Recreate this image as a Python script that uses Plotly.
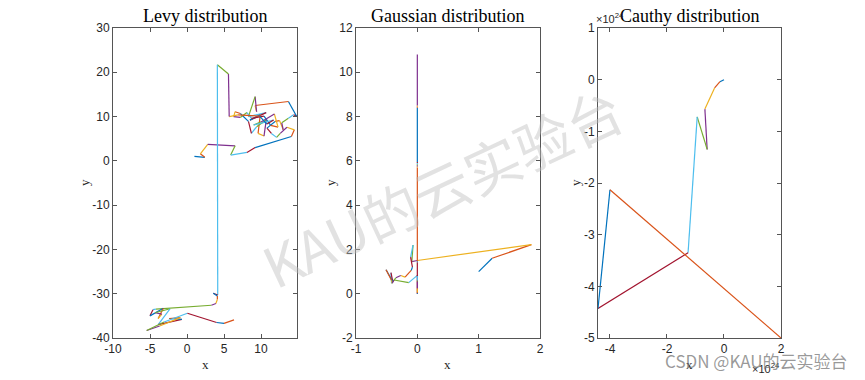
import plotly.graph_objects as go

# ---------------- data ----------------
levy_x = [1.0, 2.4, 1.8, 2.8, 6.5, 5.9, 8.1, 9.2, 14.1, 14.5, 13.5, 12.6, 12.1, 11.4, 10.8, 11.9,
          12.5, 13.0, 12.8, 13.7, 14.4, 14.8, 13.7, 9.2, 9.4, 9.2, 8.3, 10.7, 8.5, 9.9, 9.6, 10.4,
          10.7, 9.4, 8.7, 8.3, 7.2, 6.5, 6.3, 7.2, 8.1, 8.7, 10.4, 11.3, 12.3, 11.8, 10.0, 9.0,
          11.7, 10.8, 9.8, 6.9, 5.7, 5.6, 4.1, 4.15, 3.55, 4.1, 4.1, 3.9, 3.3, -4.2, -4.6, -5.0,
          -3.2, -3.9, -3.4, -4.3, -2.3, -3.9, -0.7, -2.4, -0.9, -3.7, -5.45, -3.1, 0.05, 4.0, 5.0, 6.35]
levy_y = [1.0, 0.8, 1.6, 3.7, 3.4, 1.3, 1.9, 3.0, 5.5, 7.0, 7.6, 6.2, 5.3, 6.2, 7.4, 8.9,
          9.1, 7.0, 8.6, 9.6, 10.4, 10.1, 13.4, 12.5, 11.1, 14.5, 10.0, 10.9, 9.2, 10.4, 6.2, 5.6,
          9.2, 7.7, 6.2, 8.9, 10.7, 11.1, 10.0, 9.8, 10.9, 9.6, 10.1, 8.0, 7.6, 10.6, 8.8, 8.1,
          9.2, 8.3, 10.1, 10.4, 10.0, 19.6, 21.7, -30.3, -29.9, -30.5, -31.3, -32.2, -32.6, -33.5, -33.6, -35.0,
          -33.3, -35.6, -34.6, -34.3, -33.4, -37.0, -35.8, -35.6, -35.4, -37.3, -38.3, -36.4, -34.4, -36.5, -36.7, -35.9]

gauss_x = [1.0, 1.22, 1.86, 0.0, -0.09, -0.07, -0.11, -0.08, -0.1, -0.2, -0.27, -0.35, -0.42, -0.43,
           -0.4, -0.51, -0.42, -0.41, -0.38, -0.14, 0.0, 0.0, 0.0, 0.0, 0.0, 0.0, 0.0, 0.0, 0.0,
           0.0, 0.0, 0.0, 0.0, 0.0, 0.0, 0.0, 0.0, 0.0, 0.0, 0.0]
gauss_y = [1.0, 1.6, 2.22, 1.5, 1.45, 2.2, 1.65, 1.2, 1.05, 0.75, 0.82, 0.72, 0.47, 0.95,
           0.55, 1.08, 0.6, 0.48, 0.62, 0.5, 0.83, 0.0, 0.03, 0.06, 0.25, 0.55, 0.6, 0.8, 1.42,
           1.47, 5.7, 5.75, 5.8, 5.85, 5.9, 5.95, 8.4, 8.45, 8.5, 10.8]

# Cauchy walk, values in units of 1e24
cauchy_x = [0.0, -0.14, -0.33, -0.67, -0.59, -0.94, -1.26, -4.42, -4.0, 2.0]
cauchy_y = [0.0, -0.04, -0.16, -0.57, -1.35, -0.72, -3.35, -4.43, -2.13, -5.0]

titles = ["Levy distribution", "Gaussian distribution", "Cauthy distribution"]
x_ranges = [[-10, 14.86], [-1, 2], [-4.42, 2]]
y_ranges = [[-40, 30], [-2, 12], [-5, 1]]
x_ticks = [[-10, -5, 0, 5, 10], [-1, 0, 1, 2], [-4, -2, 0, 2]]
y_ticks = [[-40, -30, -20, -10, 0, 10, 20, 30], [-2, 0, 2, 4, 6, 8, 10, 12], [-5, -4, -3, -2, -1, 0, 1]]
exponent_label = "×10<sup>24</sup>"

# ---------------- style ----------------
colors = ["#0072BD", "#D95319", "#EDB120", "#7E2F8E", "#77AC30", "#4DBEEE", "#A2142F"]
W, H = 865, 380
x_px = [(113, 297), (356, 540), (598, 781)]
y_px = (28, 338)
ylab_px = [84, 330, 575]

fig = go.Figure()
walks = [(levy_x, levy_y), (gauss_x, gauss_y), (cauchy_x, cauchy_y)]
for k, (xs, ys) in enumerate(walks):
    sfx = "" if k == 0 else str(k + 1)
    for i in range(len(xs) - 1):
        fig.add_trace(go.Scatter(
            x=[xs[i], xs[i + 1]], y=[ys[i], ys[i + 1]], mode="lines",
            line=dict(color=colors[i % 7], width=1.2),
            xaxis="x" + sfx, yaxis="y" + sfx, showlegend=False, hoverinfo="skip"))

axis_common = dict(showline=True, linecolor="#555555", linewidth=1, mirror="ticks",
                   ticks="inside", ticklen=4, tickcolor="#555555", showgrid=False,
                   zeroline=False, automargin=False,
                   tickfont=dict(family="Liberation Sans, Arial", size=12, color="#262626"))

layout = dict(width=W, height=H, margin=dict(l=0, r=0, t=0, b=0, autoexpand=False),
              paper_bgcolor="white", plot_bgcolor="white", showlegend=False)
y0, y1 = 1 - y_px[1] / H, 1 - y_px[0] / H
annotations = []


def ann(text, xp, yp, size, family, color, xanchor="center", angle=0):
    return dict(text=text, x=xp / W, y=1 - yp / H, xref="paper", yref="paper",
                xanchor=xanchor, yanchor="middle", textangle=angle, showarrow=False,
                font=dict(family=family, size=size, color=color))


serif = "Liberation Serif, Times New Roman"
sans = "Liberation Sans, Arial"
for k in range(3):
    sfx = "" if k == 0 else str(k + 1)
    xa = dict(axis_common, domain=[x_px[k][0] / W, x_px[k][1] / W], range=x_ranges[k],
              tickvals=x_ticks[k], ticktext=[str(v) for v in x_ticks[k]], anchor="y" + sfx)
    ya = dict(axis_common, domain=[y0, y1], range=y_ranges[k], tickvals=y_ticks[k],
              ticktext=[str(v) for v in y_ticks[k]], anchor="x" + sfx)
    layout["xaxis" + sfx] = xa
    layout["yaxis" + sfx] = ya
    cx = (x_px[k][0] + x_px[k][1]) / 2
    annotations.append(ann(titles[k], cx, 16, 18, serif, "black"))
    annotations.append(ann("x", cx, 364, 13, serif, "#262626"))
    annotations.append(ann("y", ylab_px[k], 183, 13, serif, "#262626", angle=-90))

# exponent labels for the Cauchy panel
annotations.append(ann(exponent_label, 594, 18, 11, sans, "#262626", xanchor="left"))
annotations.append(ann(exponent_label, 782, 368, 11, sans, "#262626", xanchor="right"))

# watermarks
annotations.append(ann("KAU的云实验台", 442, 185, 56, "Noto Sans CJK SC, Liberation Sans",
                       "rgba(190,190,190,0.45)", angle=-25))
annotations.append(ann("CSDN @KAU的云实验台", 850, 360, 17, "Noto Sans CJK SC, Liberation Sans",
                       "rgba(120,120,120,0.75)", xanchor="right"))

layout["annotations"] = annotations
fig.update_layout(**layout)
fig.write_html("out.html", config={"displayModeBar": False})

# remove the browser's default body margin so the figure sits at the window origin
with open("out.html", "r", encoding="utf-8") as f:
    html = f.read()
html = html.replace("<body>", '<body style="margin:0;padding:0;overflow:hidden">', 1)
with open("out.html", "w", encoding="utf-8") as f:
    f.write(html)
